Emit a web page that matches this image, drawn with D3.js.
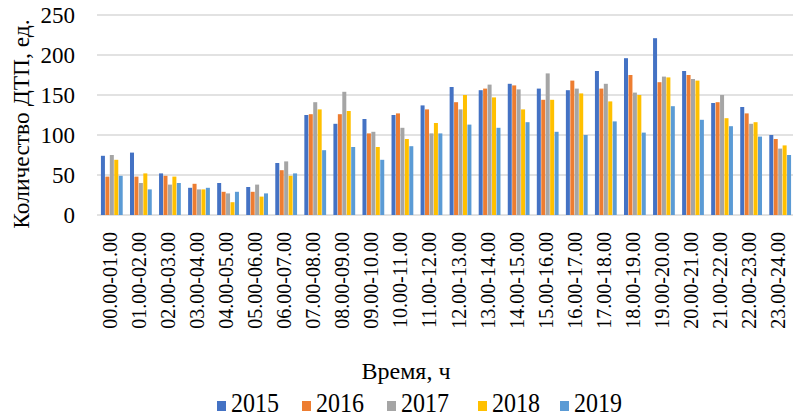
<!DOCTYPE html>
<html>
<head>
<meta charset="utf-8">
<script src="https://cdn.jsdelivr.net/npm/d3@7"></script>
<style>
  html, body { margin: 0; padding: 0; background: #fff; }
  svg { display: block; font-family: "Liberation Serif", "Times New Roman", serif; }
</style>
</head>
<body>
<svg id="chart" width="793" height="418"></svg>
<script>
// Road accidents by hour of day, 2015–2019
const hours = [
  "00.00-01.00", "01.00-02.00", "02.00-03.00", "03.00-04.00", "04.00-05.00", "05.00-06.00",
  "06.00-07.00", "07.00-08.00", "08.00-09.00", "09.00-10.00", "10.00-11.00", "11.00-12.00",
  "12.00-13.00", "13.00-14.00", "14.00-15.00", "15.00-16.00", "16.00-17.00", "17.00-18.00",
  "18.00-19.00", "19.00-20.00", "20.00-21.00", "21.00-22.00", "22.00-23.00", "23.00-24.00"
];
const years = ["2015", "2016", "2017", "2018", "2019"];
const colors = ["#4472C4", "#ED7D31", "#A5A5A5", "#FFC000", "#5B9BD5"];

const y2015 = [74, 78, 52, 34, 40, 35, 65, 125, 114, 120, 125, 137, 160, 156, 164, 158, 156, 180, 196, 221, 180, 140, 135, 100];
const y2016 = [48, 48, 49, 39, 29, 29, 56, 126, 126, 102, 127, 132, 141, 158, 162, 144, 168, 158, 175, 166, 175, 141, 127, 95];
const y2017 = [75, 40, 38, 32, 27, 38, 67, 141, 154, 104, 109, 102, 132, 163, 157, 177, 158, 164, 153, 173, 170, 150, 114, 83];
const y2018 = [69, 52, 48, 32, 16, 23, 49, 132, 130, 85, 95, 115, 150, 147, 132, 144, 152, 142, 150, 172, 168, 121, 116, 87];
const y2019 = [49, 32, 40, 34, 29, 27, 52, 81, 85, 69, 86, 102, 113, 109, 116, 104, 100, 117, 103, 136, 119, 111, 98, 75];
const series = [y2015, y2016, y2017, y2018, y2019];

const yTicks = [0, 50, 100, 150, 200, 250];

const svg = d3.select("#chart");
const plot = { left: 97, right: 795, top: 15, bottom: 215 };

const x = d3.scaleBand()
  .domain(hours)
  .range([plot.left, plot.right])
  .paddingInner(0.22)
  .paddingOuter(0.12);

const xInner = d3.scaleBand()
  .domain(years)
  .range([0, x.bandwidth()])
  .padding(0.1);

const y = d3.scaleLinear().domain([0, 250]).range([plot.bottom, plot.top]);

// horizontal gridlines
svg.append("g")
  .selectAll("line")
  .data(yTicks)
  .join("line")
  .attr("x1", plot.left)
  .attr("x2", plot.right)
  .attr("y1", d => y(d))
  .attr("y2", d => y(d))
  .attr("stroke", "#d9d9d9")
  .attr("stroke-width", 1.5);

// y tick labels
svg.append("g")
  .selectAll("text")
  .data(yTicks)
  .join("text")
  .attr("x", 75)
  .attr("y", d => y(d))
  .attr("dy", "0.35em")
  .attr("text-anchor", "end")
  .attr("font-size", 23)
  .attr("fill", "#000")
  .text(d => d);

// grouped bars
const groups = svg.append("g")
  .selectAll("g")
  .data(hours)
  .join("g")
  .attr("transform", d => `translate(${x(d)},0)`);

groups.selectAll("rect")
  .data((h, i) => years.map((yr, k) => ({ yr, k, v: series[k][i] })))
  .join("rect")
  .attr("x", d => xInner(d.yr))
  .attr("width", xInner.bandwidth())
  .attr("y", d => y(d.v))
  .attr("height", d => y(0) - y(d.v))
  .attr("fill", d => colors[d.k]);

// category labels, rotated
svg.append("g")
  .selectAll("text")
  .data(hours)
  .join("text")
  .attr("transform", d => `translate(${x(d) + x.bandwidth() / 2 - 2},232) rotate(-90)`)
  .attr("dy", "0.35em")
  .attr("text-anchor", "end")
  .attr("font-size", 20)
  .attr("fill", "#000")
  .text(d => d);

// axis titles
svg.append("text")
  .attr("transform", "translate(21,124) rotate(-90)")
  .attr("dy", "0.35em")
  .attr("text-anchor", "middle")
  .attr("font-size", 23.5)
  .attr("fill", "#000")
  .text("Количество ДТП, ед.");

svg.append("text")
  .attr("x", 406)
  .attr("y", 379)
  .attr("text-anchor", "middle")
  .attr("font-size", 24)
  .attr("fill", "#000")
  .text("Время, ч");

// legend
const legendX = [217, 302, 387, 478, 560];
const legend = svg.append("g")
  .selectAll("g")
  .data(years)
  .join("g")
  .attr("transform", (d, i) => `translate(${legendX[i]},0)`);

legend.append("rect")
  .attr("x", 0)
  .attr("y", 401)
  .attr("width", 9)
  .attr("height", 10)
  .attr("fill", (d, i) => colors[i]);

legend.append("text")
  .attr("transform", "translate(14,412) scale(1,1.15)")
  .attr("font-size", 24)
  .attr("fill", "#000")
  .text(d => d);
</script>
</body>
</html>
